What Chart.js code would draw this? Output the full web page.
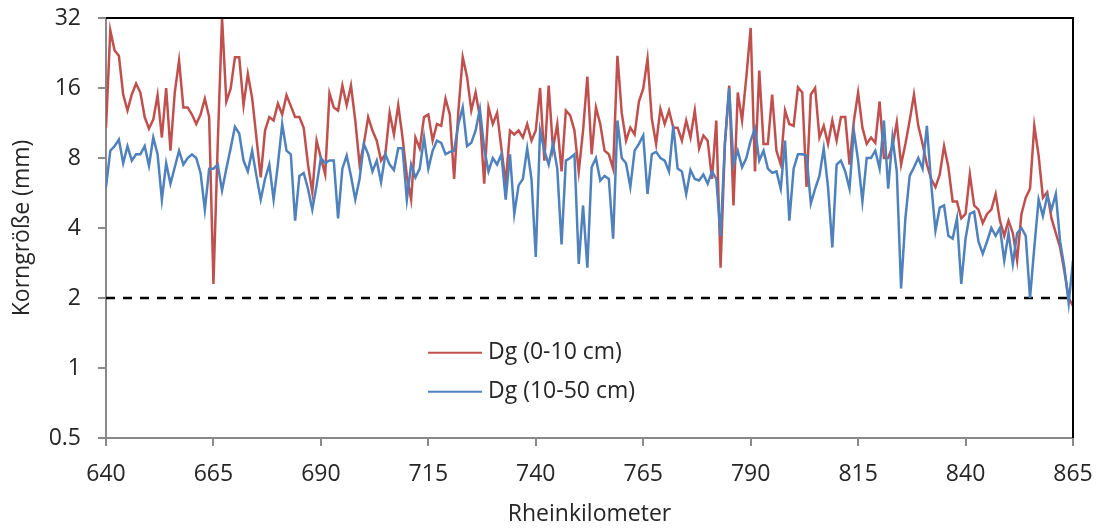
<!DOCTYPE html>
<html>
<head>
<meta charset="utf-8">
<title>Korngröße Rhein</title>
<script src="https://cdn.jsdelivr.net/npm/chart.js@4.4.1/dist/chart.umd.min.js"></script>
<style>
  html, body { margin: 0; padding: 0; background: #fff; }
  #grafico { display: block; }
</style>
</head>
<body>
<canvas id="grafico" width="1112" height="531"></canvas>
<script>
// Rheinkilometer 640 .. 865, ein Wert pro km
var dg0_10 = [
  10.8, 28.3, 23.2, 22, 15, 12.8, 15, 16.7, 15.3, 12.0,
  10.7, 11.7, 14.9, 9.8, 16, 8.6, 15.3, 21, 13.2, 13.2,
  12.3, 11.2, 12.3, 14.4, 12, 2.3, 9.2, 32, 14, 15.9,
  21.7, 21.7, 13.5, 18.4, 14.5, 9.8, 6.6, 10.5, 12, 11.6,
  13.7, 12.3, 14.9, 13.4, 12, 12, 10.8, 7.5, 5.7, 9.5,
  8.0, 6.8, 15.2, 13.2, 12.8, 16.4, 13.5, 16.4, 11.6, 7.5,
  9.2, 12, 10.5, 9.5, 7.8, 8.3, 12.5, 10.1, 13.5, 9.8,
  6.7, 5.3, 9.8, 8.8, 12, 12.3, 9.5, 11.2, 11, 14.4,
  12.3, 6.5, 12.8, 21.7, 17.9, 12.8, 15.3, 12, 6.2, 13.2,
  11.2, 12.5, 8.8, 6.2, 10.5, 10.1, 10.5, 9.8, 11.2, 9.5,
  10.5, 16.0, 7.8, 16.4, 8.8, 11.2, 7.0, 12.8, 12.2, 10.5,
  7.0, 10.5, 17.9, 8.3, 13.2, 11.2, 8.6, 8.3, 7.2, 22,
  12.5, 9.5, 10.8, 10.1, 14, 15.9, 21.4, 11.8, 9.2, 13,
  11.2, 12.8, 10.8, 10.8, 9.5, 11.6, 9.8, 12.8, 8.8, 10.0,
  9.5, 6.5, 11.6, 2.7, 9.2, 16.4, 5.0, 15.3, 11.6, 17.9,
  29, 7, 19, 9.2, 9.2, 15, 8.6, 7.5, 12.8, 11.2,
  11.0, 16.1, 15.3, 6.0, 15.0, 16.0, 9.8, 11, 9.2, 11.6,
  9.5, 12, 12, 7.5, 11.5, 15.3, 10.8, 9.2, 9.8, 9.3,
  14, 8.0, 8.0, 9.0, 11.4, 7.5, 9.2, 11.6, 15, 11,
  9.2, 7.5, 6.5, 6.0, 6.8, 9.0, 7.3, 5.2, 5.2, 4.4,
  4.6, 6.8, 5.0, 4.8, 4.2, 4.6, 4.8, 5.6, 4.3, 3.7,
  4.3, 3.8, 2.9, 4.6, 5.4, 5.9, 11, 8.2, 5.4, 5.7,
  4.4, 3.8, 3.3, 2.6, 2.0, 1.85
];

var dg10_50 = [
  6.0, 8.6, 9.0, 9.6, 7.6, 9.0, 7.8, 8.3, 8.3, 9.0,
  7.4, 9.8, 8.3, 5.3, 7.6, 6.2, 7.3, 8.6, 7.5, 8.0,
  8.3, 8.0, 6.9, 4.8, 7.2, 7.2, 7.5, 5.8, 7.2, 8.8,
  10.9, 10.2, 7.8, 7.0, 8.6, 6.7, 5.3, 6.5, 7.5, 5.3,
  7.5, 11.2, 8.6, 8.3, 4.3, 6.7, 6.9, 5.9, 4.8, 6.1,
  8.0, 7.6, 7.8, 7.8, 4.4, 7.2, 8.2, 6.7, 5.3, 6.5,
  9.2, 8.3, 7.0, 7.8, 6.3, 8.3, 7.5, 7.1, 8.8, 8.8,
  5.3, 7.5, 6.6, 7.2, 9.8, 7.2, 8.6, 9.5, 9.3, 8.3,
  8.5, 8.6, 11.2, 13.2, 9.0, 9.3, 10.5, 13.0, 8.8, 7.0,
  8.0, 7.5, 8.3, 5.3, 8.3, 4.6, 6.1, 6.5, 8.8, 6.5,
  3.0, 10.5, 8.6, 7.5, 9.2, 7.2, 3.4, 7.8, 8.0, 8.3,
  2.8, 5.0, 2.7, 7.3, 8.0, 6.4, 6.7, 6.5, 3.6, 11.6,
  8.0, 7.6, 6.0, 8.6, 9.2, 10, 5.6, 8.3, 8.5, 8.0,
  7.8, 7.0, 11, 7.2, 7.0, 5.6, 7.1, 6.5, 6.4, 6.8,
  6.2, 7.0, 6.5, 3.7, 9.2, 16, 7.5, 8.6, 7.3, 8.0,
  9.5, 10.7, 7.8, 8.6, 7.2, 6.9, 7.0, 5.9, 9.5, 4.3,
  7.2, 8.3, 8.3, 8.2, 5.1, 5.9, 6.7, 8.8, 6.0, 3.3,
  7.5, 7.8, 7.0, 5.9, 10.5, 7.8, 5.2, 8.0, 8.0, 8.6,
  7.2, 11.6, 5.9, 9.8, 7.0, 2.2, 4.4, 6.7, 7.3, 8.0,
  7.2, 11, 6.2, 3.9, 4.9, 5.0, 3.7, 3.6, 4.4, 2.3,
  3.6, 4.6, 4.7, 3.5, 3.1, 3.5, 4.0, 3.7, 4.0, 2.9,
  3.8, 2.8, 3.8, 4.0, 3.7, 2.0, 3.3, 5.3, 4.5, 5.5,
  4.8, 5.6, 3.5, 2.7, 1.9, 2.9
];

var kmInicio = 640;
var xTicks = [640, 665, 690, 715, 740, 765, 790, 815, 840, 865];
var yTicks = [0.5, 1, 2, 4, 8, 16, 32];
var grenze = 2;   // gestrichelte Linie bei 2 mm

var rotulos = ['Dg (0-10 cm)', 'Dg (10-50 cm)'];
var cores = ['#C0504D', '#4F81BD'];
var fonte = '"Open Sans", "Liberation Sans", sans-serif';
var corTexto = '#262626';
var corEixo = '#898989';

var pontos = function (serie) {
  return serie.map(function (v, i) { return { x: kmInicio + i, y: v }; });
};

// Legende steht im Diagramm, wie im Original
var legendePlugin = {
  id: 'legende',
  afterDraw: function (chart) {
    var ctx = chart.ctx;
    var a = chart.chartArea;
    var w = a.right - a.left;
    var h = a.bottom - a.top;
    var x0 = a.left + 0.333 * w;
    var comp = 54;
    ctx.save();
    ctx.font = '23px ' + fonte;
    ctx.textBaseline = 'middle';
    ctx.fillStyle = corTexto;
    for (var i = 0; i < rotulos.length; i++) {
      var y = a.top + (0.797 + i * 0.093) * h;
      ctx.strokeStyle = cores[i];
      ctx.lineWidth = 2;
      ctx.beginPath();
      ctx.moveTo(x0, y);
      ctx.lineTo(x0 + comp, y);
      ctx.stroke();
      ctx.fillText(rotulos[i], x0 + comp + 6, y);
    }
    ctx.restore();
  }
};

// schwarzer Rahmen oben und rechts
var rahmenPlugin = {
  id: 'rahmen',
  afterDatasetsDraw: function (chart) {
    var ctx = chart.ctx;
    var a = chart.chartArea;
    ctx.save();
    ctx.strokeStyle = '#000';
    ctx.lineWidth = 2;
    ctx.beginPath();
    ctx.moveTo(a.left, a.top);
    ctx.lineTo(a.right, a.top);
    ctx.lineTo(a.right, a.bottom);
    ctx.stroke();
    ctx.restore();
  }
};

var data = {
  datasets: [{
    label: rotulos[0],
    data: pontos(dg0_10),
    borderColor: cores[0],
    borderWidth: 2.5,
    order: 1
  }, {
    label: rotulos[1],
    data: pontos(dg10_50),
    borderColor: cores[1],
    borderWidth: 2.5,
    order: 0
  }, {
    label: '',
    data: [{ x: xTicks[0], y: grenze }, { x: xTicks[xTicks.length - 1], y: grenze }],
    borderColor: '#000',
    borderWidth: 2.5,
    borderDash: [9, 8],
    order: 2
  }]
};

var grafico = new Chart(document.getElementById('grafico'), {
  type: 'line',
  data: data,
  plugins: [rahmenPlugin, legendePlugin],
  options: {
    responsive: false,
    animation: false,
    devicePixelRatio: 1,
    layout: { padding: { top: 18, right: 39, left: 0, bottom: 0 } },
    elements: { point: { radius: 0 }, line: { tension: 0, fill: false } },
    plugins: { legend: { display: false }, tooltip: { enabled: false } },
    scales: {
      x: {
        type: 'linear',
        min: 640,
        max: 865,
        afterBuildTicks: function (s) { s.ticks = xTicks.map(function (v) { return { value: v }; }); },
        afterFit: function (s) {
          s.height = 93;
          s.paddingLeft = 0;
          s.paddingRight = 0;
        },
        grid: { drawOnChartArea: false, tickLength: 8, color: corEixo, lineWidth: 2 },
        border: { color: corEixo, width: 2 },
        ticks: {
          color: corTexto,
          font: { family: fonte, size: 23 },
          padding: 15,
          maxRotation: 0,
          autoSkip: false,
          callback: function (v) { return String(v); }
        },
        title: {
          display: true,
          text: 'Rheinkilometer',
          color: corTexto,
          font: { family: fonte, size: 23 },
          padding: { top: 0, bottom: 3 }
        }
      },
      y: {
        type: 'logarithmic',
        min: 0.5,
        max: 32,
        afterBuildTicks: function (s) { s.ticks = yTicks.map(function (v) { return { value: v }; }); },
        afterFit: function (s) {
          s.width = 106;
          s.paddingTop = 0;
          s.paddingBottom = 0;
        },
        grid: { drawOnChartArea: false, tickLength: 8, color: corEixo, lineWidth: 2 },
        border: { color: corEixo, width: 2 },
        ticks: {
          color: corTexto,
          font: { family: fonte, size: 23 },
          padding: 17,
          autoSkip: false,
          callback: function (v) { return String(v); }
        },
        title: {
          display: true,
          text: 'Korngröße (mm)',
          color: corTexto,
          font: { family: fonte, size: 23 },
          padding: { top: 9, bottom: 0 }
        }
      }
    }
  }
});
</script>
</body>
</html>
